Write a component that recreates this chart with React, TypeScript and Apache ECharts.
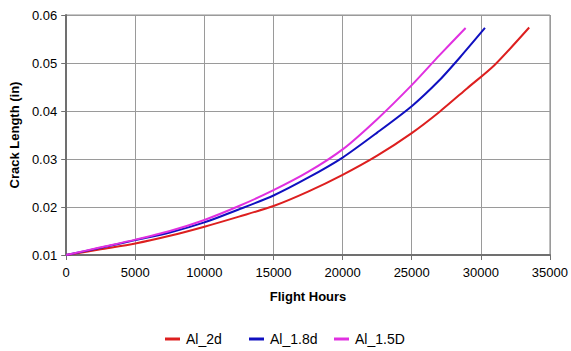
import React, { useEffect, useRef } from "react";
import * as echarts from "echarts";

const seriesNames = ["Al_2d", "Al_1.8d", "Al_1.5D"];
const seriesColors = ["#dd1f1f", "#1010c0", "#e030e0"];

const al2dHours = [0, 2500, 5000, 7500, 10000, 12500, 15000, 17500, 20000, 22500, 25000, 27000, 29000, 31000, 33500];
const al2dCrack = [0.01, 0.0112, 0.0124, 0.014, 0.0159, 0.018, 0.0202, 0.0232, 0.0267, 0.0307, 0.0354, 0.0398, 0.0447, 0.0496, 0.0574];

const al18dHours = [0, 2500, 5000, 7500, 10000, 12500, 15000, 17500, 20000, 22500, 25000, 27000, 28500, 30300];
const al18dCrack = [0.01, 0.0115, 0.0131, 0.0147, 0.0168, 0.0195, 0.0224, 0.0261, 0.0303, 0.0355, 0.041, 0.0464, 0.0512, 0.0573];

const al15DHours = [0, 2500, 5000, 7500, 10000, 12500, 15000, 17500, 20000, 22500, 25000, 27000, 28900];
const al15DCrack = [0.01, 0.0116, 0.0132, 0.015, 0.0173, 0.0202, 0.0235, 0.0273, 0.032, 0.0383, 0.0454, 0.0516, 0.0573];

const xTicks = { min: 0, max: 35000, interval: 5000 };
const yTicks = { min: 0.01, max: 0.06, interval: 0.01 };

const zip = (xs: number[], ys: number[]) => xs.map((x, i) => [x, ys[i]]);

export default function App() {
  const ref = useRef<HTMLDivElement>(null);
  useEffect(() => {
    if (!ref.current) return;
    const chart = echarts.init(ref.current, undefined, { renderer: "svg" });
    const font = "'Liberation Sans', Arial, sans-serif";
    const datasets = [zip(al2dHours, al2dCrack), zip(al18dHours, al18dCrack), zip(al15DHours, al15DCrack)];
    const legendLefts = [165, 249, 334];
    chart.setOption({
      animation: false,
      backgroundColor: "#ffffff",
      textStyle: { fontFamily: font },
      grid: {
        left: 62,
        right: 19,
        top: 15,
        bottom: 96,
        show: true,
        borderColor: "#909090",
        borderWidth: 1,
      },
      legend: seriesNames.map((n, i) => ({
        data: [n],
        left: legendLefts[i],
        top: 332,
        icon: "rect",
        itemWidth: 15,
        itemHeight: 3,
        itemGap: 0,
        padding: 0,
        selectedMode: false,
        textStyle: { fontFamily: font, fontSize: 14, color: "#000", padding: [0, 0, 0, 1] },
      })),
      xAxis: {
        type: "value",
        min: xTicks.min,
        max: xTicks.max,
        interval: xTicks.interval,
        name: "Flight Hours",
        nameLocation: "middle",
        nameGap: 35,
        nameTextStyle: { fontFamily: font, fontSize: 13, fontWeight: "bold", color: "#000" },
        axisLine: { show: true, onZero: false, lineStyle: { color: "#707070", width: 2 } },
        axisTick: { show: true, length: 5, lineStyle: { color: "#707070" } },
        axisLabel: {
          fontFamily: font,
          fontSize: 13,
          color: "#000",
          margin: 11,
          formatter: (v: number) => String(v),
        },
        splitLine: { show: true, lineStyle: { color: "#9a9a9a", width: 1 } },
      },
      yAxis: {
        type: "value",
        min: yTicks.min,
        max: yTicks.max,
        interval: yTicks.interval,
        name: "Crack Length (in)",
        nameLocation: "middle",
        nameGap: 40,
        nameTextStyle: { fontFamily: font, fontSize: 13, fontWeight: "bold", color: "#000" },
        axisLine: { show: true, onZero: false, lineStyle: { color: "#707070", width: 2 } },
        axisTick: { show: true, length: 5, lineStyle: { color: "#707070" } },
        axisLabel: {
          fontFamily: font,
          fontSize: 13,
          color: "#000",
          margin: 9,
          formatter: (v: number) => v.toFixed(2),
        },
        splitLine: { show: true, lineStyle: { color: "#9a9a9a", width: 1 } },
      },
      series: seriesNames.map((n, i) => ({
        name: n,
        type: "line",
        data: datasets[i],
        smooth: 0.25,
        showSymbol: false,
        symbol: "none",
        color: seriesColors[i],
        lineStyle: { color: seriesColors[i], width: 2 },
      })),
    });
    return () => chart.dispose();
  }, []);
  return <div ref={ref} style={{ width: 571, height: 351, position: "absolute", left: 0, top: 0 }} />;
}
